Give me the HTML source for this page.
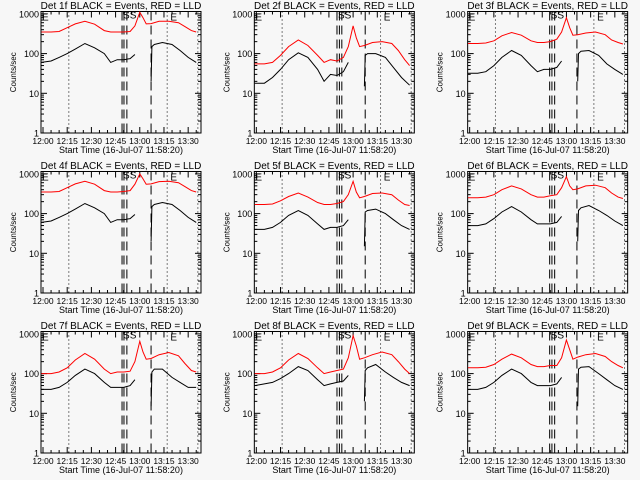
<!DOCTYPE html>
<html><head><meta charset="utf-8"><style>
html,body{margin:0;padding:0;background:#f7f7f7;}
svg{display:block;font-family:"Liberation Sans",sans-serif;}
</style></head><body>
<svg id="chart" width="640" height="480" viewBox="0 0 640 480" xmlns="http://www.w3.org/2000/svg">
<rect x="0" y="0" width="640" height="480" fill="#f7f7f7"/>
</svg>
<script>
// Chart data (minutes after 12:00, counts/sec)
const detectors = ["1f","2f","3f","4f","5f","6f","7f","8f","9f"];
const xTickLabels = ["12:00","12:15","12:30","12:45","13:00","13:15","13:30"];
const xTickMinutes = [0,15,30,45,60,75,90];
const yTickLabels = ["1","10","100","1000"];
const yTickValues = [1,10,100,1000];
const redTimes = [-1,5,10,15,20,26,32,38,42,46,50,54,57,60,62,64,67,72,78,84,88,92,95];
const blackPreTimes = [-1,5,10,15,20,26,32,38,42,46,50,54,57];
const blackPostTimes = [67,67.5,69,74,80,85,90,95];
const red1 = [350,350,360,450,560,650,550,380,350,350,350,360,500,1100,800,560,570,650,650,600,480,380,350];
const red2 = [55,55,60,90,150,220,160,90,60,70,65,80,150,500,250,150,160,190,200,180,120,70,50];
const red3 = [180,180,185,210,280,340,290,210,190,190,200,230,350,800,450,290,300,330,350,300,220,190,175];
const red4 = [350,350,360,450,560,650,550,380,350,350,360,380,550,1000,750,550,560,640,650,600,480,380,350];
const red5 = [170,170,175,210,270,330,260,190,170,170,180,200,300,650,350,250,270,320,330,300,220,170,160];
const red6 = [250,250,260,300,400,500,420,300,260,260,280,300,450,850,500,400,420,500,520,450,330,260,240];
const red7 = [100,100,110,140,220,320,230,130,100,110,110,115,200,650,350,230,240,300,340,280,180,120,110];
const red8 = [100,100,110,140,220,320,240,140,100,110,120,130,250,900,500,230,250,300,350,300,200,130,100];
const red9 = [140,140,145,170,230,310,250,170,150,150,160,160,250,700,400,230,260,300,320,270,200,160,140];
const blackPre1 = [60,65,80,100,130,180,140,100,60,70,70,75,95];
const blackPre2 = [18,18,25,40,70,105,80,40,20,30,28,35,60];
const blackPre3 = [32,32,35,50,80,120,90,50,35,40,40,45,65];
const blackPre4 = [60,65,80,100,130,180,140,100,60,70,70,75,95];
const blackPre5 = [40,40,45,60,90,120,90,55,40,45,45,50,70];
const blackPre6 = [50,50,55,75,110,150,110,70,55,55,55,60,85];
const blackPre7 = [40,40,45,60,90,130,100,60,45,45,45,50,70];
const blackPre8 = [50,55,60,75,100,150,120,70,50,55,60,65,90];
const blackPre9 = [40,40,45,60,90,130,100,60,50,50,50,55,80];
const blackPost1 = [20,150,170,190,170,120,80,60];
const blackPost2 = [15,90,100,100,80,45,25,16];
const blackPost3 = [20,100,115,120,90,55,40,30];
const blackPost4 = [20,150,170,190,170,120,80,60];
const blackPost5 = [15,110,120,130,100,70,50,40];
const blackPost6 = [20,120,140,160,120,90,65,50];
const blackPost7 = [15,110,130,130,80,60,45,45];
const blackPost8 = [20,120,140,170,110,80,60,50];
const blackPost9 = [15,130,145,150,100,70,50,40];
const dashMinutesCol1 = [49,50.2,52,67];
const dashMinutesCol2 = [50,51.5,53,67.5];
const dashMinutesCol3 = [49.6,51,52.7,66.5];
const dottedMinutes = [16,77,96];

const reds=[red1,red2,red3,red4,red5,red6,red7,red8,red9];
const bPre=[blackPre1,blackPre2,blackPre3,blackPre4,blackPre5,blackPre6,blackPre7,blackPre8,blackPre9];
const bPost=[blackPost1,blackPost2,blackPost3,blackPost4,blackPost5,blackPost6,blackPost7,blackPost8,blackPost9];
const dashCols=[dashMinutesCol1,dashMinutesCol2,dashMinutesCol3];

const NS="http://www.w3.org/2000/svg";
const svg=document.getElementById('chart');
function mk(tag,attrs,parent){const e=document.createElementNS(NS,tag);for(const k in attrs)e.setAttribute(k,attrs[k]);(parent||svg).appendChild(e);return e;}

for(let i=0;i<9;i++){
  const c=i%3, r=Math.floor(i/3);
  const ox=c*213.33, oy=r*160;
  const L=ox+41, R=ox+201, T=oy+11.5, B=oy+133;
  const xS=m=>ox+43+m*1.613;
  const yS=v=>B-Math.log10(v)*39.7;
  const g=mk('g',{});
  
  
  // title
  const t=mk('text',{x:(L+R)/2,y:oy+9,'font-size':'10','text-anchor':'middle',fill:'#000'},g);
  t.textContent='Det '+detectors[i]+' BLACK = Events, RED = LLD';
  
  
  // frame
  const fr=mk('rect',{x:L,y:T,width:R-L,height:B-T,fill:'none',stroke:'#000','stroke-width':'1'},g);
  
  
  // y ticks
  for(let d=0;d<4;d++){
    const y=yS(yTickValues[d]);
    mk('line',{x1:L,x2:L+6,y1:y,y2:y,stroke:'#000'},g);
    mk('line',{x1:R-6,x2:R,y1:y,y2:y,stroke:'#000'},g);
    const lb=mk('text',{x:L-2,y:y+3.5,'font-size':'9','text-anchor':'end',fill:'#000'},g);
    lb.textContent=yTickLabels[d];
    
    
    if(d<3)for(let k=2;k<10;k++){const ym=yS(yTickValues[d]*k);
      mk('line',{x1:L,x2:L+3,y1:ym,y2:ym,stroke:'#000'},g);
      mk('line',{x1:R-3,x2:R,y1:ym,y2:ym,stroke:'#000'},g);}
  }
  // x ticks
  for(let k=0;k<xTickMinutes.length;k++){
    const x=xS(xTickMinutes[k]);
    mk('line',{x1:x,x2:x,y1:B,y2:B-6,stroke:'#000'},g);
    mk('line',{x1:x,x2:x,y1:T,y2:T+6,stroke:'#000'},g);
    const lb=mk('text',{x:x,y:B+11,'font-size':'8.5','text-anchor':'middle',fill:'#000'},g);
    lb.textContent=xTickLabels[k];
    
    
  }
  for(let m=5;m<96;m+=5){if(m%15===0)continue;const x=xS(m);
    mk('line',{x1:x,x2:x,y1:B,y2:B-3,stroke:'#000'},g);
    mk('line',{x1:x,x2:x,y1:T,y2:T+3,stroke:'#000'},g);}
  const xt=mk('text',{x:(L+R)/2,y:B+20,'font-size':'9','text-anchor':'middle',fill:'#000'},g);
  xt.textContent='Start Time (16-Jul-07 11:58:20)';
  
  
  const yt=mk('text',{x:0,y:0,'font-size':'8','text-anchor':'middle',fill:'#000',transform:`translate(${ox+16},${(T+B)/2}) rotate(-90)`},g);
  yt.textContent='Counts/sec';
  
  
  // dotted markers
  dottedMinutes.forEach(m=>{const x=xS(m);if(x>R)return;
    const l=mk('line',{x1:x,x2:x,y1:T,y2:B,stroke:'#000','stroke-dasharray':'1,3'},g);
    
    });
  // dashed markers
  dashCols[c].forEach(m=>{const x=xS(m);
    const l=mk('line',{x1:x,x2:x,y1:T,y2:B,stroke:'#000','stroke-dasharray':'9,5'},g);
    
    });
  // E/S labels
  const e1=mk('text',{x:L+1,y:T+9,'font-size':'10',fill:'#000'},g);e1.textContent='E';
  
  
  const e2=mk('text',{x:xS(79),y:T+9,'font-size':'10',fill:'#000'},g);e2.textContent='E';
  
  
  const s1=mk('text',{x:xS(dashCols[c][0])+1,y:T+7,'font-size':'10',fill:'#000'},g);s1.textContent='SS';
  
  
  // series
  const path=(ts,vs)=>ts.map((m,j)=>(j?'L':'M')+xS(m).toFixed(1)+','+yS(vs[j]).toFixed(1)).join('');
  const rp=mk('path',{d:path(redTimes,reds[i]),fill:'none',stroke:'#ff0000','stroke-width':'1'},g);
  
  
  const bp1=mk('path',{d:path(blackPreTimes,bPre[i]),fill:'none',stroke:'#000','stroke-width':'1'},g);
  
  
  const bp2=mk('path',{d:path(blackPostTimes,bPost[i]),fill:'none',stroke:'#000','stroke-width':'1'},g);
  
  
}
</script>
</body></html>
